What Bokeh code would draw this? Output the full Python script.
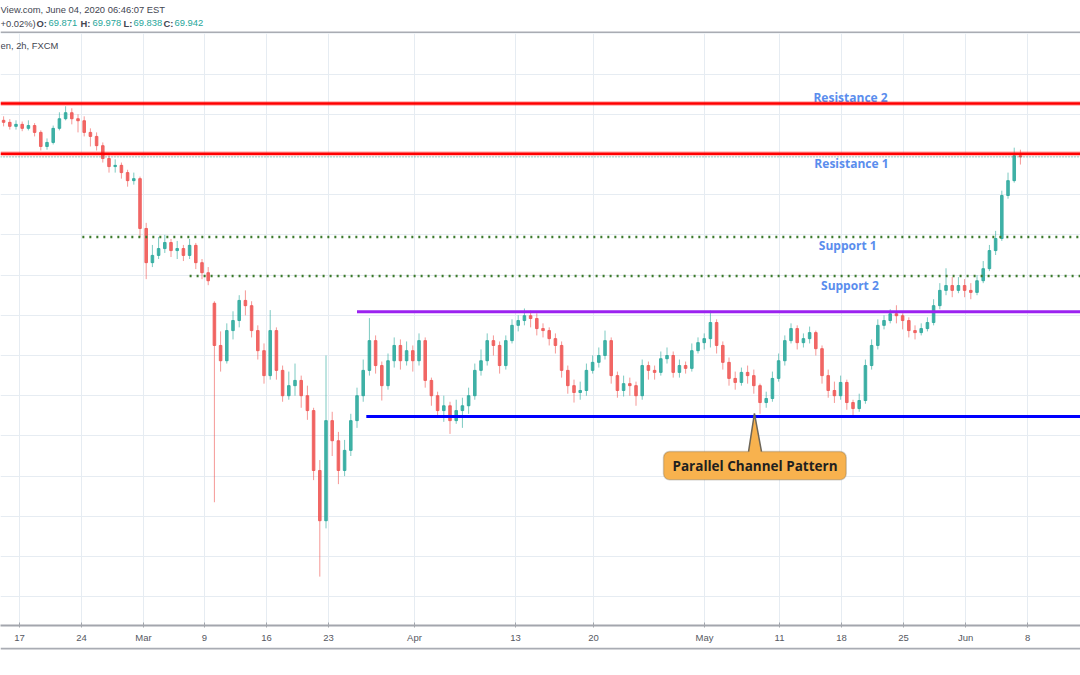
from bokeh.plotting import figure
from bokeh.models import Range1d, FixedTicker, LinearAxis, Span, BoxAnnotation, ColumnDataSource
from bokeh.layouts import column
from bokeh.core.properties import value
from bokeh.embed import file_html
from bokeh.resources import INLINE

# ---------------- data (NZD/JPY, 2h chart read as half-day candles) ----------------
opens = [70.85, 70.80, 70.70, 70.75, 70.65, 70.72, 70.55, 70.20, 70.30, 70.65,
         70.89, 71.04, 70.89, 70.84, 70.55, 70.45, 70.22, 69.90, 69.70, 69.73,
         69.55, 69.35, 69.40, 68.16, 67.31, 67.49, 67.66, 67.81, 67.61, 67.66,
         67.49, 67.74, 67.31, 67.06, 66.30, 65.25, 64.87, 65.62, 65.87, 66.37,
         66.24, 65.62, 65.12, 64.50, 65.62, 64.63, 64.00, 64.25, 64.38, 64.00,
         63.63, 62.14, 60.89, 63.38, 62.88, 62.14, 62.64, 63.38, 64.00, 64.63,
         65.37, 64.75, 64.25, 64.87, 65.25, 64.87, 65.12, 64.87, 65.37, 64.38,
         64.00, 63.63, 63.75, 63.38, 63.63, 63.75, 64.00, 64.63, 64.87, 65.37,
         65.25, 64.75, 65.37, 65.75, 65.87, 65.99, 65.92, 65.67, 65.62, 65.42,
         65.25, 64.63, 64.25, 64.08, 64.13, 64.63, 64.83, 65.00, 65.37, 64.50,
         64.13, 64.30, 64.25, 64.00, 64.75, 64.63, 64.58, 64.92, 65.00, 64.58,
         64.75, 64.68, 65.12, 65.32, 65.42, 65.82, 65.25, 64.83, 64.43, 64.33,
         64.58, 64.50, 64.25, 63.83, 63.93, 64.43, 64.87, 65.37, 65.67, 65.32,
         65.42, 65.57, 65.17, 64.50, 64.13, 64.00, 64.33, 63.83, 63.68, 63.88,
         64.75, 65.25, 65.75, 65.87, 66.04, 65.99, 65.87, 65.62, 65.57, 65.67,
         65.82, 66.24, 66.62, 66.74, 66.62, 66.74, 66.62, 66.57, 66.86, 67.16,
         67.61, 67.91, 68.98, 69.35, 69.97]
highs = [70.95, 70.88, 70.85, 70.82, 70.85, 70.78, 70.60, 70.40, 70.72, 71.05,
         71.20, 71.15, 71.00, 70.95, 70.65, 70.55, 70.30, 69.98, 69.88, 69.80,
         69.62, 69.55, 69.45, 68.30, 67.75, 67.95, 68.00, 67.90, 67.85, 67.75,
         67.90, 67.80, 67.40, 67.20, 66.35, 65.60, 65.80, 66.10, 66.50, 66.62,
         66.35, 65.75, 65.30, 66.13, 65.70, 64.75, 64.60, 64.80, 64.50, 64.25,
         63.70, 62.40, 65.00, 63.60, 63.10, 62.90, 63.55, 64.20, 64.90, 65.93,
         65.50, 64.85, 65.05, 65.45, 65.40, 65.35, 65.25, 65.55, 65.45, 64.45,
         64.10, 64.00, 63.85, 63.90, 63.95, 64.20, 64.80, 65.15, 65.55, 65.50,
         65.35, 65.50, 65.90, 66.00, 66.17, 66.12, 66.05, 65.80, 65.70, 65.55,
         65.35, 64.75, 64.40, 64.35, 64.80, 65.00, 65.20, 65.62, 65.45, 64.60,
         64.50, 64.45, 64.35, 64.90, 64.85, 64.75, 65.10, 65.20, 65.10, 64.90,
         64.85, 65.30, 65.45, 65.55, 66.12, 65.90, 65.35, 64.95, 64.60, 64.70,
         64.75, 64.65, 64.30, 64.10, 64.60, 65.05, 65.50, 65.80, 65.75, 65.55,
         65.72, 65.62, 65.25, 64.65, 64.35, 64.50, 64.40, 63.90, 64.05, 64.90,
         65.40, 65.90, 66.00, 66.15, 66.25, 66.05, 65.95, 65.75, 65.80, 65.95,
         66.40, 66.80, 67.17, 66.95, 66.95, 66.90, 66.80, 67.00, 67.35, 67.75,
         68.10, 69.10, 69.55, 70.17, 70.12]
lows = [70.70, 70.62, 70.62, 70.58, 70.60, 70.45, 70.10, 70.12, 70.25, 70.60,
        70.85, 70.75, 70.55, 70.45, 70.20, 70.10, 69.80, 69.55, 69.55, 69.40,
        69.20, 69.25, 67.95, 66.90, 67.20, 67.40, 67.55, 67.45, 67.40, 67.35,
        67.40, 67.15, 66.90, 66.75, 61.35, 64.60, 64.80, 65.40, 65.70, 66.00,
        65.45, 64.90, 64.30, 64.40, 64.40, 63.85, 63.90, 64.00, 63.70, 63.40,
        61.90, 59.50, 60.70, 62.50, 61.80, 62.00, 62.50, 63.20, 63.85, 64.50,
        64.55, 63.88, 64.15, 64.70, 64.65, 64.75, 64.60, 64.75, 64.20, 63.75,
        63.45, 63.35, 63.05, 63.30, 63.20, 63.55, 63.90, 64.50, 64.75, 65.00,
        64.55, 64.65, 65.30, 65.60, 65.75, 65.70, 65.50, 65.45, 65.25, 65.05,
        64.45, 64.05, 63.83, 63.90, 64.00, 64.55, 64.70, 64.90, 64.30, 63.95,
        63.98, 64.00, 63.75, 63.90, 64.40, 64.40, 64.50, 64.80, 64.45, 64.45,
        64.55, 64.60, 65.05, 65.15, 65.20, 65.05, 64.65, 64.25, 64.15, 64.25,
        64.30, 64.05, 63.55, 63.70, 63.85, 64.35, 64.75, 65.30, 65.15, 65.20,
        65.30, 65.00, 64.30, 63.95, 63.82, 63.90, 63.65, 63.50, 63.60, 63.80,
        64.65, 65.15, 65.65, 65.80, 65.80, 65.65, 65.45, 65.40, 65.50, 65.60,
        65.75, 66.15, 66.50, 66.45, 66.55, 66.45, 66.40, 66.50, 66.80, 67.10,
        67.50, 67.85, 68.90, 69.30, 69.75]
closes = [70.80, 70.70, 70.75, 70.65, 70.72, 70.55, 70.20, 70.30, 70.65, 70.89,
          71.04, 70.89, 70.84, 70.55, 70.45, 70.22, 69.90, 69.70, 69.73, 69.55,
          69.35, 69.40, 68.16, 67.31, 67.49, 67.66, 67.81, 67.61, 67.66, 67.49,
          67.74, 67.31, 67.06, 66.86, 65.25, 64.87, 65.62, 65.87, 66.37, 66.24,
          65.62, 65.12, 64.50, 65.62, 64.63, 64.00, 64.25, 64.38, 64.00, 63.63,
          62.14, 60.89, 63.38, 62.88, 62.14, 62.64, 63.38, 64.00, 64.63, 65.37,
          64.75, 64.25, 64.87, 65.25, 64.87, 65.12, 64.87, 65.37, 64.38, 64.00,
          63.63, 63.75, 63.38, 63.63, 63.75, 64.00, 64.63, 64.87, 65.37, 65.25,
          64.75, 65.37, 65.75, 65.87, 65.99, 65.92, 65.67, 65.62, 65.42, 65.25,
          64.63, 64.25, 64.08, 64.13, 64.63, 64.83, 65.00, 65.37, 64.50, 64.13,
          64.30, 64.25, 64.00, 64.75, 64.63, 64.58, 64.92, 65.00, 64.58, 64.75,
          64.68, 65.12, 65.32, 65.42, 65.82, 65.25, 64.83, 64.43, 64.33, 64.58,
          64.50, 64.25, 63.83, 63.93, 64.43, 64.87, 65.37, 65.67, 65.32, 65.42,
          65.57, 65.17, 64.50, 64.13, 64.00, 64.33, 63.83, 63.68, 63.88, 64.75,
          65.25, 65.75, 65.87, 66.04, 65.99, 65.87, 65.62, 65.57, 65.67, 65.82,
          66.24, 66.62, 66.74, 66.62, 66.74, 66.62, 66.57, 66.86, 67.16, 67.61,
          67.91, 68.98, 69.35, 69.97, 69.94]

tick_labels = ["17", "24", "Mar", "9", "16", "23", "Apr", "13", "20", "May",
               "11", "18", "25", "Jun", "8"]
tick_slots = [2.56, 12.56, 22.56, 32.4, 42.4, 52.4, 66.27, 82.56, 95.15, 113.05,
              125.15, 135.15, 145.15, 155.15, 165.15]
price_grid = [59, 60, 61, 62, 63, 64, 65, 66, 67, 68, 69, 70, 71, 72, 73]

resistance_names = ["Resistance 2", "Resistance 1"]
resistance_prices = [71.27, 70.02]
support_names = ["Support  1", "Support  2"]
support_prices = [67.95, 66.98]
support_start = [12.7, 30.0]
channel_top = 66.09
channel_top_start = 57.0
channel_bottom = 63.48
channel_bottom_start = 58.5

header_line1 = "View.com, June 04, 2020 06:46:07 EST"
header_change = "+0.02%)"
ohlc_keys = ["O:", "H:", "L:", "C:"]
ohlc_vals = ["69.871", "69.978", "69.838", "69.942"]
symbol_line = "en, 2h, FXCM"
callout_text = "Parallel Channel Pattern"

# ---------------- styles ----------------
UP = "#26a69a"
DOWN = "#ef5350"
GRID = "#e6ecf2"
TXT = "#434651"
LBL_BLUE = "#5a8ded"
X_END = 173.69

n = min(len(opens), len(highs), len(lows), len(closes))
slots = list(range(n))
src = ColumnDataSource(dict(
    x=slots, o=opens[:n], h=highs[:n], l=lows[:n], c=closes[:n],
    top=[max(opens[i], closes[i]) for i in range(n)],
    bot=[min(opens[i], closes[i]) for i in range(n)],
    col=[UP if closes[i] >= opens[i] else DOWN for i in range(n)],
))

# ---------------- header ----------------
hdr = figure(width=1080, height=33, x_range=Range1d(0, 1080), y_range=Range1d(33, 0),
             output_backend="svg", toolbar_location=None, title=None,
             x_axis_location=None, y_axis_location=None,
             min_border_left=0, min_border_right=0, min_border_top=0, min_border_bottom=0)
hdr.outline_line_color = None
hdr.xgrid.visible = False
hdr.ygrid.visible = False
HF = value("Liberation Sans")
hdr.text(x=[0], y=[9], text=[header_line1], text_font=HF, text_font_size="9.4px",
         text_color=TXT, text_baseline="middle", text_align="left")
hdr.text(x=[0], y=[22.5], text=[header_change], text_font=HF, text_font_size="9.4px",
         text_color=TXT, text_baseline="middle", text_align="left")
key_x = [36, 80, 123, 163]
val_x = [48, 92, 133, 174]
hdr.text(x=key_x, y=[22.5] * 4, text=ohlc_keys, text_font=HF, text_font_size="9.4px",
         text_font_style="bold", text_color=TXT, text_baseline="middle", text_align="left")
hdr.text(x=val_x, y=[22.5] * 4, text=ohlc_vals, text_font=HF, text_font_size="9.4px",
         text_color=UP, text_baseline="middle", text_align="left")
hdr.segment(x0=[0], y0=[32], x1=[1080], y1=[32], line_color="#a9acb3", line_width=2)

# ---------------- main chart ----------------
p = figure(width=1080, height=614, x_range=Range1d(-0.5, X_END), y_range=Range1d(58.284, 73.01),
           output_backend="svg", toolbar_location=None, title=None,
           x_axis_location=None, y_axis_location=None,
           min_border_left=0, min_border_right=0, min_border_top=0, min_border_bottom=22)
p.outline_line_color = None
p.background_fill_color = "white"
p.border_fill_color = "white"
p.xgrid.ticker = FixedTicker(ticks=tick_slots)
p.ygrid.ticker = FixedTicker(ticks=price_grid)
for g in (p.xgrid, p.ygrid):
    g.grid_line_color = GRID
    g.grid_line_width = 1

xax = LinearAxis(ticker=FixedTicker(ticks=tick_slots),
                 major_label_overrides={t: l for t, l in zip(tick_slots, tick_labels)})
xax.axis_line_color = "#a3a6ad"
xax.axis_line_width = 2
xax.major_tick_line_color = "#a3a6ad"
xax.major_tick_in = 3
xax.major_tick_out = 2
xax.minor_tick_line_color = None
xax.major_label_standoff = 4
xax.major_label_text_font = "Liberation Sans"
xax.major_label_text_font_size = "9.5px"
xax.major_label_text_color = "#55585f"
p.add_layout(xax, "below")

# candles
p.segment(x0="x", y0="l", x1="x", y1="h", source=src, line_color="col", line_width=1, line_alpha=0.6)
p.vbar(x="x", top="top", bottom="bot", width=0.42, source=src, fill_color="col",
       line_color="col", fill_alpha=0.8, line_alpha=0.8)

# current price line
p.add_layout(Span(location=closes[n - 1], dimension="width", line_color=UP,
                  line_dash="1 2", line_width=1))

# resistance (full width, red)
for rp in resistance_prices:
    p.add_layout(Span(location=rp, dimension="width", line_color="#ff0000", line_width=5, line_alpha=0.25))
    p.add_layout(Span(location=rp, dimension="width", line_color="#ff0000", line_width=2.5))

# supports (dotted green)
p.segment(x0=support_start, y0=support_prices, x1=[X_END] * len(support_prices), y1=support_prices,
          line_color="#3c7a2c", line_width=2.5, line_dash="2 5")

# parallel channel
p.segment(x0=[channel_top_start], y0=[channel_top], x1=[X_END], y1=[channel_top],
          line_color="#9b22f0", line_width=3)
p.segment(x0=[channel_bottom_start], y0=[channel_bottom], x1=[X_END], y1=[channel_bottom],
          line_color="#0000ff", line_width=3)

# level labels
p.text(x=[136.6, 136.75], y=[71.42, 69.78], text=resistance_names,
       text_font=value("Open Sans"), text_font_style="bold", text_font_size="12px",
       text_color=LBL_BLUE, text_align="center", text_baseline="middle")
p.text(x=[136.4, 136.75], y=[67.74, 66.74], text=support_names,
       text_font=value("Open Sans"), text_font_style="bold", text_font_size="12px",
       text_color=LBL_BLUE, text_align="center", text_baseline="middle")

# symbol line inside chart
p.text(x=[-0.5], y=[72.71], text=[symbol_line], text_font=HF, text_font_size="9.4px",
       text_color=TXT, text_align="left", text_baseline="middle")

# callout
CALL_FILL = "#f8b24e"
CALL_LINE = "#6e6658"
p.add_layout(BoxAnnotation(left=106.44, right=135.9, top=62.61, bottom=61.907,
                           fill_color=CALL_FILL, fill_alpha=1.0, line_color=CALL_LINE,
                           line_width=1.5, border_radius=6))
p.patch(x=[120.15, 120.15, 121.1, 122.24, 122.24], y=[62.55, 62.61, 63.56, 62.61, 62.55],
        fill_color=CALL_FILL, line_color=None, level="overlay")
p.line(x=[120.15, 121.1, 122.24], y=[62.61, 63.56, 62.61], line_color=CALL_LINE,
       line_width=1.5, level="overlay")
p.text(x=[121.19], y=[62.26], text=[callout_text], text_font=value("Open Sans"),
       text_font_style="bold", text_font_size="13.5px", text_color="#1f1f1f",
       text_align="center", text_baseline="middle", level="overlay")

# ---------------- footer ----------------
ftr = figure(width=1080, height=28, x_range=Range1d(0, 1080), y_range=Range1d(28, 0),
             output_backend="svg", toolbar_location=None, title=None,
             x_axis_location=None, y_axis_location=None,
             min_border_left=0, min_border_right=0, min_border_top=0, min_border_bottom=0)
ftr.outline_line_color = None
ftr.xgrid.visible = False
ftr.ygrid.visible = False
ftr.segment(x0=[0], y0=[1], x1=[1080], y1=[1], line_color="#a9acb3", line_width=2)

layout = column(hdr, p, ftr, spacing=0)
open("out.html", "w").write(file_html(layout, INLINE))
